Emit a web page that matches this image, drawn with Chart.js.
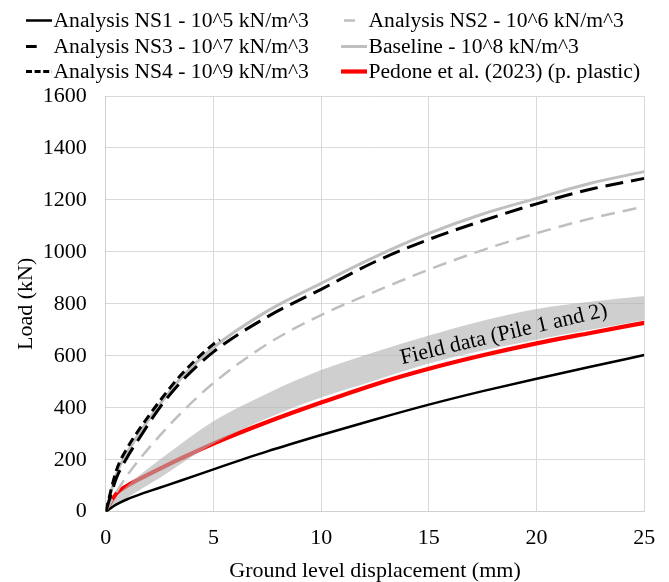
<!DOCTYPE html>
<html>
<head>
<meta charset="utf-8">
<script src="https://cdn.jsdelivr.net/npm/chart.js@4"></script>
<style>
  html, body { margin: 0; padding: 0; background: #fff; }
  #wrap { position: relative; width: 669px; height: 582px; }
  #chart { position: absolute; left: 0; top: 0; }
  .legend-item {
    position: absolute; height: 25px; display: flex; align-items: center;
    font: 21.6px 'Liberation Serif', 'Times New Roman', serif; line-height: 25px;
    color: #000; white-space: nowrap;
  }
  .legend-item svg { flex: none; margin-right: 1.5px; }
</style>
</head>
<body>
<div id="wrap">
  <canvas id="chart" width="669" height="582"></canvas>
</div>
<script>
// displacement (mm) sampled for every curve except NS4
const xs = [0, 0.5, 1, 1.5, 2.5, 3.5, 5, 7.5, 10, 12.5, 15, 17.5, 20, 22.5, 25];

// load (kN)
const ns1 = [0, 28, 48, 64, 92, 120, 163, 232, 295, 355, 412, 464, 512, 558, 603];
const ns2 = [0, 75, 140, 195, 292, 380, 495, 645, 757, 847, 932, 1007, 1072, 1128, 1175];
const ns3 = [0, 130, 210, 275, 400, 500, 615, 750, 856, 962, 1048, 1120, 1185, 1241, 1283];
const baseline = [0, 145, 228, 295, 412, 515, 632, 772, 879, 981, 1071, 1146, 1206, 1264, 1309];
const pedone = [0, 70, 100, 123, 165, 205, 262, 345, 420, 490, 550, 602, 648, 688, 727];
const fieldUpper = [0, 58, 100, 136, 200, 262, 348, 455, 545, 615, 678, 735, 780, 808, 830];
const fieldLower = [0, 28, 54, 80, 130, 185, 262, 360, 440, 505, 570, 620, 662, 700, 737];

// NS4 stops early
const ns4X = [0, 0.5, 1, 1.5, 2.5, 3.5, 5, 5.3];
const ns4 = [0, 160, 245, 310, 425, 527, 645, 662];

const xTicks = [0, 5, 10, 15, 20, 25];
const yTicks = [0, 200, 400, 600, 800, 1000, 1200, 1400, 1600];

const fieldLabel = { text: 'Field data (Pile 1 and 2)', x: 18.54, y: 661, angle: -13.2 };

const serif = "'Liberation Serif', 'Times New Roman', serif";
const pts = (xv, yv) => xv.map((v, i) => ({ x: v, y: yv[i] }));

const datasets = [
  { label: 'Analysis NS1 - 10^5 kN/m^3', data: pts(xs, ns1), borderColor: '#000000', borderWidth: 2.5, order: 5 },
  { label: 'Analysis NS2 - 10^6 kN/m^3', data: pts(xs, ns2), borderColor: '#bfbfbf', borderWidth: 2.5, borderDash: [14, 8], order: 4 },
  { label: 'Analysis NS3 - 10^7 kN/m^3', data: pts(xs, ns3), borderColor: '#000000', borderWidth: 3, borderDash: [18, 8], order: 2 },
  { label: 'Baseline - 10^8 kN/m^3', data: pts(xs, baseline), borderColor: '#bfbfbf', borderWidth: 3, order: 3 },
  { label: 'Analysis NS4 - 10^9 kN/m^3', data: pts(ns4X, ns4), borderColor: '#000000', borderWidth: 3, borderDash: [9, 5], order: 1 },
  { label: 'Pedone et al. (2023) (p. plastic)', data: pts(xs, pedone), borderColor: '#ff0000', borderWidth: 4.2, order: 10 },
  { label: 'Field upper', data: pts(xs, fieldUpper), borderColor: 'rgba(0,0,0,0)', backgroundColor: 'rgba(178,178,178,0.62)', fill: '+1', order: 9 },
  { label: 'Field lower', data: pts(xs, fieldLower), borderColor: 'rgba(0,0,0,0)', order: 9 }
];

// legend slots: where each of the six entries sits, and its sample dash
const legendSlots = [
  { left: 26, top: 7.5, width: 26, dash: null },
  { left: 341, top: 7.5, width: 26, dash: '11 40', offset: -3 },
  { left: 26, top: 33.5, width: 26, dash: '10.7 40', offset: 0 },
  { left: 341, top: 33.5, width: 26, dash: null },
  { left: 26, top: 59, width: 26, dash: '6 2.6', offset: 0 },
  { left: 341, top: 59, width: 26, dash: null }
];

const wrap = document.getElementById('wrap');
legendSlots.forEach((slot, i) => {
  const ds = datasets[i];
  const item = document.createElement('div');
  item.className = 'legend-item';
  item.style.left = slot.left + 'px';
  item.style.top = slot.top + 'px';
  const dash = slot.dash ? ` stroke-dasharray="${slot.dash}" stroke-dashoffset="${slot.offset}"` : '';
  item.innerHTML = `<svg width="${slot.width}" height="25"><line x1="0" y1="12.5" x2="${slot.width}" y2="12.5" stroke="${ds.borderColor}" stroke-width="${ds.borderWidth}"${dash}/></svg><span></span>`;
  item.querySelector('span').textContent = ds.label;
  wrap.appendChild(item);
});

const labelPlugin = {
  id: 'fieldLabel',
  afterDatasetsDraw(chart) {
    const { ctx, scales: { x, y } } = chart;
    ctx.save();
    ctx.translate(x.getPixelForValue(fieldLabel.x), y.getPixelForValue(fieldLabel.y));
    ctx.rotate(fieldLabel.angle * Math.PI / 180);
    ctx.font = '22px ' + serif;
    ctx.fillStyle = '#000';
    ctx.textAlign = 'center';
    ctx.textBaseline = 'alphabetic';
    ctx.fillText(fieldLabel.text, 0, 0);
    ctx.restore();
  }
};

new Chart(document.getElementById('chart'), {
  type: 'line',
  data: { datasets: datasets },
  options: {
    responsive: false,
    animation: false,
    layout: { padding: { left: 0, right: 24.7, top: 96, bottom: 0 } },
    elements: {
      point: { radius: 0, hoverRadius: 0 },
      line: { cubicInterpolationMode: 'monotone', fill: false }
    },
    plugins: { legend: { display: false }, tooltip: { enabled: false } },
    scales: {
      x: {
        type: 'linear', min: 0, max: 25,
        afterBuildTicks: s => { s.ticks = xTicks.map(v => ({ value: v })); },
        afterFit: s => { s.height = 70.3; },
        ticks: { padding: 13, color: '#000', font: { family: serif, size: 22 }, callback: v => String(v) },
        grid: { color: '#d9d9d9', lineWidth: 1, drawTicks: false },
        border: { color: '#d0d0d0' },
        title: {
          display: true, text: 'Ground level displacement (mm)', color: '#000',
          font: { family: serif, size: 22, lineHeight: 1 }, padding: { top: 0, bottom: 0 }
        }
      },
      y: {
        type: 'linear', min: 0, max: 1600,
        afterBuildTicks: s => { s.ticks = yTicks.map(v => ({ value: v })); },
        afterFit: s => { s.width = 105.7; },
        ticks: { padding: 19, color: '#000', font: { family: serif, size: 22 }, callback: v => String(v) },
        grid: { color: '#d9d9d9', lineWidth: 1, drawTicks: false },
        border: { color: '#d0d0d0' },
        title: {
          display: true, text: 'Load (kN)', color: '#000',
          font: { family: serif, size: 22, lineHeight: 1 }, padding: { top: 15, bottom: 0 }
        }
      }
    }
  },
  plugins: [labelPlugin]
});
</script>
</body>
</html>
